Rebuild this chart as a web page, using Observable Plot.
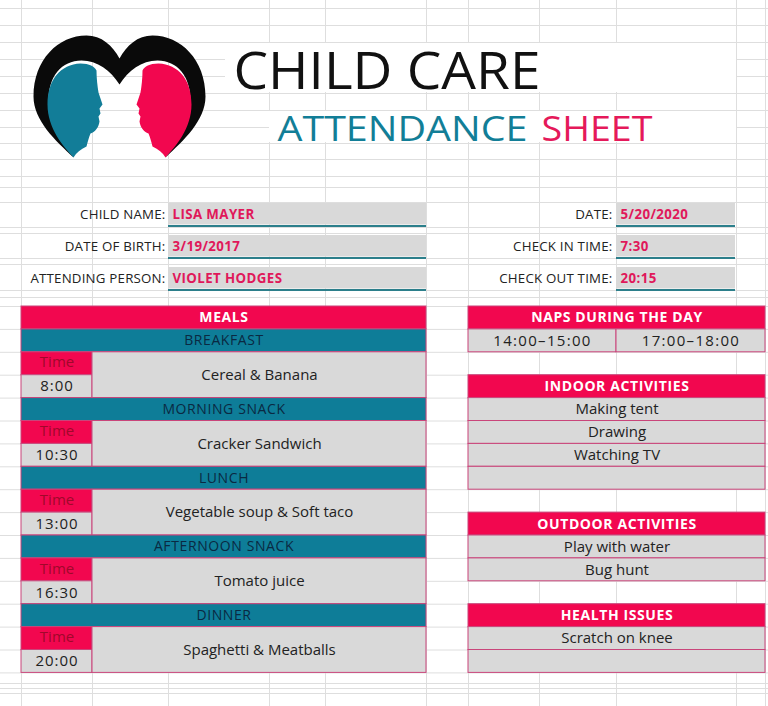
<!DOCTYPE html>
<html><head><meta charset="utf-8">
<script src="https://cdn.jsdelivr.net/npm/d3@7"></script>
<script src="https://cdn.jsdelivr.net/npm/@observablehq/plot@0.6"></script>
<style>html,body{margin:0;padding:0;background:#fff;} #chart svg{display:block}</style>
</head><body><div id="chart"></div>
<script>
// ---------- DATA ----------
const titleMain = "CHILD CARE";
const titleSub1 = "ATTENDANCE";
const titleSub2 = "SHEET";
const infoLeftLabels = ["CHILD NAME:", "DATE OF BIRTH:", "ATTENDING PERSON:"];
const infoLeftValues = ["LISA MAYER", "3/19/2017", "VIOLET HODGES"];
const infoRightLabels = ["DATE:", "CHECK IN TIME:", "CHECK OUT TIME:"];
const infoRightValues = ["5/20/2020", "7:30", "20:15"];
const mealsTitle = "MEALS";
const mealNames = ["BREAKFAST", "MORNING SNACK", "LUNCH", "AFTERNOON SNACK", "DINNER"];
const mealTimeLabel = "Time";
const mealTimes = ["8:00", "10:30", "13:00", "16:30", "20:00"];
const mealItems = ["Cereal & Banana", "Cracker Sandwich", "Vegetable soup & Soft taco", "Tomato juice", "Spaghetti & Meatballs"];
const napsTitle = "NAPS DURING THE DAY";
const napTimes = ["14:00–15:00", "17:00–18:00"];
const indoorTitle = "INDOOR ACTIVITIES";
const indoorActivities = ["Making tent", "Drawing", "Watching TV", ""];
const outdoorTitle = "OUTDOOR ACTIVITIES";
const outdoorActivities = ["Play with water", "Bug hunt"];
const healthTitle = "HEALTH ISSUES";
const healthIssues = ["Scratch on knee", ""];

// ---------- LAYOUT / STYLE ----------
const W = 768, H = 706;
const FONT = "'Open Sans', sans-serif";
const PINK = "#f2074f", TEAL = "#0e7d98", GRAY = "#d9d9d9", NAVY = "#0a2942",
      BORDER = "#c9457a", ULINE = "#2c7f8b", GRID = "#dedede", TIMEC = "#a0082b";
const ROW0 = 306, ROWH = 22.9;
const rowY = r => ROW0 + r * ROWH;
const C = {tblL: 21, timeR: 92, tblR: 426, rL: 468, rMid: 616, rR: 765};
const INFO = {labelR: 165, valL: 168, valR: 426, rLabelR: 612, rValL: 616, rValR: 735, top: 203, pitch: 32, h: 21.5, pad: 4};
const gridXs = [21, 92, 168, 269, 325, 426, 468, 539, 616, 736, 765];
const gridYsTop = [8, 25, 42, 59, 76, 93, 110, 127, 143, 159, 176, 187, 202, 227, 233, 258, 264, 290, 297];
const gridYsBottom = [683, 688, 693];
const merged = [{x1: 225, x2: 736, y1: 43, y2: 92}, {x1: 269, x2: 736, y1: 111, y2: 142}];
const titleBox = {mainX: 233, mainY: 88, mainLen: 307, subY: 140, sub1X: 277, sub1Len: 250, sub2X: 652, sub2Len: 111};

// ---------- BUILD TABLES ----------
const cells = [];
const texts = {header: [], band: [], timeLbl: [], time: [], item: [], nap: []};
cells.push({x1: C.tblL, x2: C.tblR, r1: 0, r2: 1, fill: PINK});
texts.header.push({x: (C.tblL + C.tblR) / 2, r: 0.5, t: mealsTitle});
mealNames.forEach((name, i) => {
  const r = 1 + 3 * i;
  cells.push({x1: C.tblL, x2: C.tblR, r1: r, r2: r + 1, fill: TEAL});
  cells.push({x1: C.tblL, x2: C.timeR, r1: r + 1, r2: r + 2, fill: PINK});
  cells.push({x1: C.tblL, x2: C.timeR, r1: r + 2, r2: r + 3, fill: GRAY});
  cells.push({x1: C.timeR, x2: C.tblR, r1: r + 1, r2: r + 3, fill: GRAY});
  texts.band.push({x: (C.tblL + C.tblR) / 2, r: r + 0.5, t: name});
  texts.timeLbl.push({x: (C.tblL + C.timeR) / 2, r: r + 1.45, t: mealTimeLabel});
  texts.time.push({x: (C.tblL + C.timeR) / 2, r: r + 2.5, t: mealTimes[i]});
  texts.item.push({x: (C.timeR + C.tblR) / 2, r: r + 2, t: mealItems[i]});
});
let start = 0;
const rc = (C.rL + C.rR) / 2;
cells.push({x1: C.rL, x2: C.rR, r1: start, r2: start + 1, fill: PINK});
texts.header.push({x: rc, r: start + 0.5, t: napsTitle});
napTimes.forEach((t, j) => {
  const x1 = j === 0 ? C.rL : C.rMid, x2 = j === 0 ? C.rMid : C.rR;
  cells.push({x1, x2, r1: start + 1, r2: start + 2, fill: GRAY});
  texts.nap.push({x: (x1 + x2) / 2, r: start + 1.5, t});
});
start += 3;
[[indoorTitle, indoorActivities], [outdoorTitle, outdoorActivities], [healthTitle, healthIssues]].forEach(([title, items]) => {
  cells.push({x1: C.rL, x2: C.rR, r1: start, r2: start + 1, fill: PINK});
  texts.header.push({x: rc, r: start + 0.5, t: title});
  items.forEach((t, j) => {
    cells.push({x1: C.rL, x2: C.rR, r1: start + 1 + j, r2: start + 2 + j, fill: GRAY});
    texts.item.push({x: rc, r: start + 1.5 + j, t});
  });
  start += items.length + 2;
});

const infoRows = [];
infoLeftLabels.forEach((l, i) => infoRows.push({side: "L", i, label: l, value: infoLeftValues[i]}));
infoRightLabels.forEach((l, i) => infoRows.push({side: "R", i, label: l, value: infoRightValues[i]}));
const iTop = d => INFO.top + INFO.pitch * d.i;
const iX1 = d => d.side === "L" ? INFO.valL : INFO.rValL;
const iX2 = d => d.side === "L" ? INFO.valR : INFO.rValR;
const iLab = d => d.side === "L" ? INFO.labelR : INFO.rLabelR;

const headPath = "M73,157 C63,146 47,128 47,104 C47,79 60,64 80,63 C89,63 94,66 96,70 C96,78 97,86 98,92 L102,104 L99,108 L100,113 L98,116 L99,121 C98,127 95,131 90,133 C88,138 87,142 86,146 C80,149 76,152 73,157 Z";
const logoSvg = `<svg xmlns="http://www.w3.org/2000/svg" viewBox="20 30 200 140" width="200" height="140">
<path fill="#0a0a0a" d="M73,157 C55,140 33,120 33,96 C33,59 58,35 86,35 C101,35 112,45 119,58 C126,45 137,35 152,35 C180,35 205,59 205,96 C205,120 183,140 165,157 C176,140 190,120 190,100 C190,76 177,60 157,60 C141,60 128,70 119,84 C110,70 97,60 81,60 C61,60 48,76 48,100 C48,120 62,140 73,157 Z"/>
<path fill="#127d98" d="${headPath}"/>
<path fill="#f2074f" transform="translate(238,0) scale(-1,1)" d="${headPath}"/>
</svg>`;
const logo = [{x: 120, y: 100, w: 200, h: 140, src: "data:image/svg+xml;utf8," + encodeURIComponent(logoSvg)}];

const txt = (data, opts) => Plot.text(data, {x: "x", y: d => rowY(d.r), text: "t", fontFamily: FONT, ...opts});

// text marks in drawing order (names used for post-styling)
const textMarkNames = ["title-main", "title-sub1", "title-sub2", "info-label", "info-value", "hdr", "band", "timelbl", "time", "item", "nap"];

const plot = Plot.plot({
  width: W, height: H, margin: 0,
  x: {domain: [0, W], range: [0, W], axis: null},
  y: {domain: [0, H], range: [0, H], axis: null},
  style: {background: "#fff", fontFamily: FONT},
  marks: [
    Plot.ruleX(gridXs, {stroke: GRID, strokeWidth: 1}),
    Plot.ruleY([...gridYsTop, ...d3.range(0, 17).map(rowY), ...gridYsBottom], {stroke: GRID, strokeWidth: 1}),
    Plot.rect(merged, {x1: "x1", x2: "x2", y1: "y1", y2: "y2", fill: "#fff"}),
    Plot.image(logo, {x: "x", y: "y", width: d => d.w, height: d => d.h, src: "src", preserveAspectRatio: "none"}),
    Plot.rect(infoRows, {x1: iX1, x2: iX2, y1: iTop, y2: d => iTop(d) + INFO.h, fill: GRAY}),
    Plot.ruleY(infoRows, {y: d => iTop(d) + INFO.h + 1, x1: iX1, x2: iX2, stroke: ULINE, strokeWidth: 2}),
    Plot.rect(cells, {x1: "x1", x2: "x2", y1: d => rowY(d.r1), y2: d => rowY(d.r2), fill: "fill", stroke: BORDER, strokeWidth: 1}),
    Plot.text([titleMain], {x: titleBox.mainX, y: titleBox.mainY, text: d => d, textAnchor: "start", lineAnchor: "bottom", fontSize: 52, fill: "#111", fontFamily: FONT}),
    Plot.text([titleSub1], {x: titleBox.sub1X, y: titleBox.subY, text: d => d, textAnchor: "start", lineAnchor: "bottom", fontSize: 35, fill: "#127e97", fontFamily: FONT}),
    Plot.text([titleSub2], {x: titleBox.sub2X, y: titleBox.subY, text: d => d, textAnchor: "end", lineAnchor: "bottom", fontSize: 35, fill: "#e5195a", fontFamily: FONT}),
    Plot.text(infoRows, {x: iLab, y: d => iTop(d) + 11, text: "label", textAnchor: "end", fontSize: 13.3, fill: "#222", fontFamily: FONT}),
    Plot.text(infoRows, {x: d => iX1(d) + INFO.pad, y: d => iTop(d) + 11, text: "value", textAnchor: "start", fontSize: 13.3, fontWeight: "bold", fill: "#e0185a", fontFamily: FONT}),
    txt(texts.header, {fill: "#fff", fontWeight: "bold", fontSize: 14}),
    txt(texts.band, {fill: NAVY, fontSize: 14, fontWeight: 500}),
    txt(texts.timeLbl, {fill: TIMEC, fontSize: 15}),
    txt(texts.time, {fill: "#222", fontSize: 15}),
    txt(texts.item, {fill: "#222", fontSize: 15}),
    txt(texts.nap, {fill: "#222", fontSize: 15})
  ]
});
document.getElementById("chart").append(plot);

const groups = {};
plot.querySelectorAll("g[aria-label='text']").forEach((g, i) => { groups[textMarkNames[i]] = g; });
const spacing = {"nap": "1.3px", "time": "1px", "hdr": "0.6px", "band": "0.6px", "info-label": "0.2px", "info-value": "0.4px"};
for (const [k, v] of Object.entries(spacing)) if (groups[k]) groups[k].style.letterSpacing = v;
// stretch title glyphs horizontally to the reference widths (anchor stays fixed)
function stretch(name, target) {
  const g = groups[name];
  if (!g) return;
  g.querySelectorAll("text").forEach(el => {
    const w = el.getBBox().width;
    if (!w) return;
    const t = el.getAttribute("transform") || "";
    el.setAttribute("transform", `${t} scale(${target / w},1)`);
  });
}
stretch("title-main", titleBox.mainLen);
stretch("title-sub1", titleBox.sub1Len);
stretch("title-sub2", titleBox.sub2Len);
</script>
</body></html>
